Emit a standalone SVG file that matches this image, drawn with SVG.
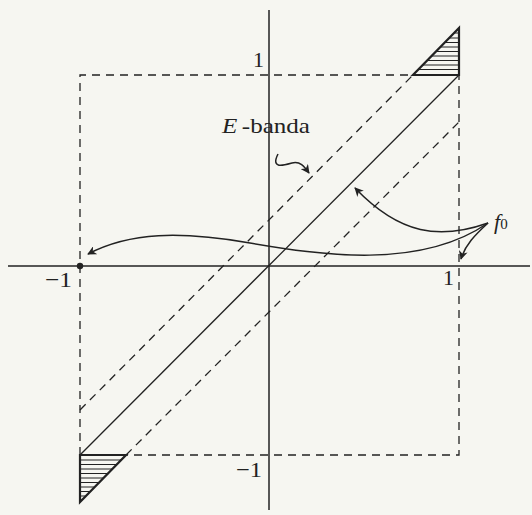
<svg xmlns="http://www.w3.org/2000/svg" width="532" height="515" viewBox="0 0 532 515">
<defs>
<style>
.ax{stroke:#222;stroke-width:1.5;fill:none}
.sol{stroke:#222;stroke-width:1.3;fill:none}
.dash{stroke:#222;stroke-width:1.3;fill:none;stroke-dasharray:8,6}
.tri{stroke:#222;stroke-width:2.2;fill:none;stroke-linejoin:miter}
.hat{stroke:#222;stroke-width:1}
.arr{stroke:#222;stroke-width:1.5;fill:none;marker-end:url(#ah)}
.t{font-family:"Liberation Serif","DejaVu Serif",serif;font-size:22px;fill:#222}
</style>
<marker id="ah" viewBox="0 0 10 10" refX="9" refY="5" markerWidth="9" markerHeight="9" markerUnits="userSpaceOnUse" orient="auto">
<path d="M0,0 L10,5 L0,10 L3,5 Z" fill="#222"/>
</marker>
</defs>
<rect width="532" height="515" fill="#f6f6f1"/>
<g id="axes">
<line class="ax" x1="8" y1="266" x2="530" y2="266"/>
<line class="ax" x1="269" y1="10" x2="269" y2="510"/>
</g>
<g id="square">
<path class="dash" d="M80,455 L80,75 L459,75 L459,455 L80,455"/>
</g>
<g id="band">
<line class="sol" x1="80" y1="455" x2="459" y2="75"/>
<line class="dash" x1="80" y1="410" x2="413" y2="75"/>
<line class="dash" x1="126" y1="455" x2="459" y2="122"/>
</g>
<g id="triangle-top">
<g class="hat">
<line x1="454" y1="33" x2="459" y2="33"/>
<line x1="449" y1="38" x2="459" y2="38"/>
<line x1="445" y1="42.5" x2="459" y2="42.5"/>
<line x1="440" y1="47" x2="459" y2="47"/>
<line x1="436" y1="51.5" x2="459" y2="51.5"/>
<line x1="431" y1="56" x2="459" y2="56"/>
<line x1="427" y1="60.5" x2="459" y2="60.5"/>
<line x1="422" y1="65" x2="459" y2="65"/>
<line x1="418" y1="69.5" x2="459" y2="69.5"/>
</g>
<path class="tri" d="M413,75 L459,75 L459,28 Z"/>
</g>
<g id="triangle-bottom">
<g class="hat">
<line x1="80" y1="460" x2="121" y2="460"/>
<line x1="80" y1="464.5" x2="116.5" y2="464.5"/>
<line x1="80" y1="469" x2="112" y2="469"/>
<line x1="80" y1="473.5" x2="107.5" y2="473.5"/>
<line x1="80" y1="478" x2="103" y2="478"/>
<line x1="80" y1="482.5" x2="98.5" y2="482.5"/>
<line x1="80" y1="487" x2="94" y2="487"/>
<line x1="80" y1="491.5" x2="89.5" y2="491.5"/>
<line x1="80" y1="496" x2="85" y2="496"/>
</g>
<path class="tri" d="M80,455 L126,455 L80,502 Z"/>
</g>
<g id="point">
<circle cx="80" cy="266" r="3.2" fill="#222"/>
</g>
<g id="connectors">
<path class="arr" d="M278,154 C270,170 285,165 292,163 C300,161 304,166 309,173"/>
<path class="arr" d="M488,223 C440,240 400,235 355,188"/>
<path class="arr" d="M488,223 C420,270 320,255 250,243 C180,231 130,232 88,254"/>
<path class="arr" d="M488,223 C475,235 465,245 461,259"/>
</g>
<g id="labels">
<text class="t" x="253" y="67">1</text>
<text class="t" x="236" y="477" textLength="26" lengthAdjust="spacingAndGlyphs">−1</text>
<text class="t" x="45" y="287" textLength="27" lengthAdjust="spacingAndGlyphs">−1</text>
<text class="t" x="443" y="285">1</text>
<text class="t" x="222" y="133" textLength="88" lengthAdjust="spacingAndGlyphs"><tspan font-style="italic">E</tspan><tspan dx="4">-banda</tspan></text>
<text class="t" x="494" y="229"><tspan font-style="italic">f</tspan><tspan font-size="15">0</tspan></text>
</g>
</svg>
